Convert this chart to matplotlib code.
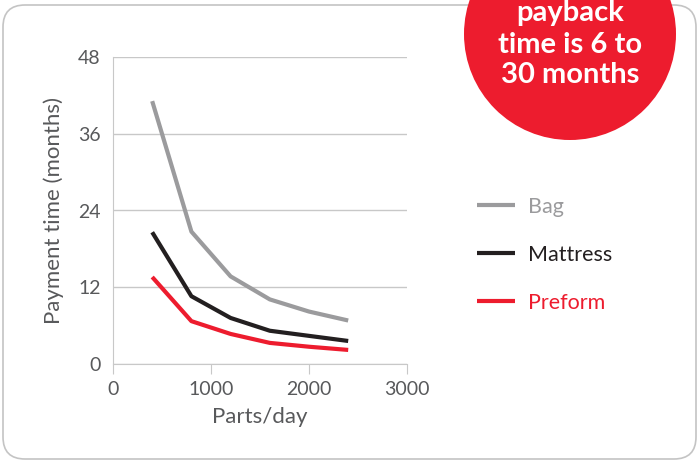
import matplotlib.pyplot as plt
from matplotlib.patches import FancyBboxPatch, Circle

plt.rcParams['font.family'] = ['Lato', 'DejaVu Sans']

# data
parts_per_day = [400, 800, 1200, 1600, 2000, 2400]
bag = [41.1, 20.7, 13.7, 10.1, 8.2, 6.8]
mattress = [20.6, 10.6, 7.2, 5.2, 4.4, 3.6]
preform = [13.6, 6.7, 4.7, 3.3, 2.7, 2.2]

series = [('Bag', bag, '#9b9b9d'), ('Mattress', mattress, '#231f20'), ('Preform', preform, '#ed1c2e')]
yticks = [0, 12, 24, 36, 48]
xticks = [0, 1000, 2000, 3000]

fig = plt.figure(figsize=(7, 4.61), dpi=100)

# background layer: rounded frame + red badge
bg = fig.add_axes([0, 0, 1, 1], zorder=0)
bg.set_xlim(0, 700)
bg.set_ylim(461, 0)
bg.axis('off')
frame = FancyBboxPatch((3, 5), 693, 454, boxstyle='round,pad=0,rounding_size=22',
                       fc='white', ec='#c4c4c4', lw=1.2)
bg.add_patch(frame)
bg.add_patch(Circle((570, 34), 106, fc='#ed1c2e', ec='none'))
for txt, yy in [('payback', 13), ('time is 6 to', 45), ('30 months', 75)]:
    bg.text(570, yy, txt, color='white', fontsize=21, fontweight='bold', ha='center', va='center')

ax = fig.add_axes([113 / 700, 97 / 461, 294 / 700, 307 / 461], zorder=1)
ax.patch.set_alpha(0)
for name, vals, col in series:
    ax.plot(parts_per_day, vals, color=col, lw=3, label=name, solid_capstyle='butt')

ax.set_xlim(0, 3000)
ax.set_ylim(0, 48)
ax.set_xticks(xticks)
ax.set_yticks(yticks)
ax.grid(axis='y', color='#c8c8c8', lw=1)
ax.set_axisbelow(True)
for s in ['top', 'right']:
    ax.spines[s].set_visible(False)
for s in ['left', 'bottom']:
    ax.spines[s].set_color('#c8c8c8')
ax.tick_params(axis='y', length=0, pad=9, labelsize=14, labelcolor='#58595b')
ax.tick_params(axis='x', length=7, color='#c8c8c8', pad=5, labelsize=14, labelcolor='#58595b')
ax.set_xlabel('Parts/day', fontsize=16, color='#58595b', labelpad=7)
ax.set_ylabel('Payment time (months)', fontsize=16, color='#58595b', labelpad=10)

ax.legend(loc='center left', bbox_to_anchor=(1.21, 0.355), frameon=False, fontsize=15.5,
          borderaxespad=0, handlelength=1.75, handletextpad=0.6, labelspacing=1.3,
          labelcolor='linecolor')

fig.savefig('out.png', dpi=100)
